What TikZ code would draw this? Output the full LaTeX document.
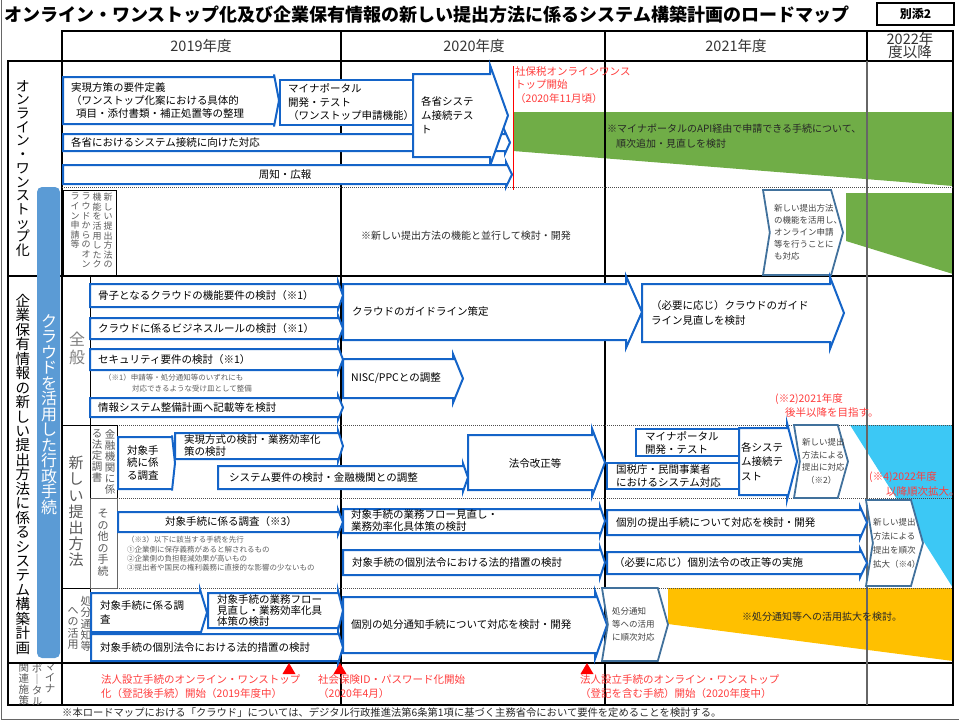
\documentclass[tikz,border=0pt]{standalone}
\usepackage{fontspec}
\setmainfont{Noto Sans CJK JP}
\usetikzlibrary{positioning}

\definecolor{arblue}{RGB}{20,100,200}
\definecolor{steel}{RGB}{65,113,156}
\definecolor{barblue}{RGB}{91,155,213}
\definecolor{grn}{RGB}{112,173,71}
\definecolor{cyn}{RGB}{60,200,245}
\definecolor{orng}{RGB}{255,192,0}
\definecolor{redtxt}{RGB}{255,60,60}
\definecolor{labgray}{RGB}{89,89,89}
\definecolor{notegray}{RGB}{95,95,95}
\definecolor{chgray}{RGB}{64,64,64}

% font size with tight lines
\newcommand\fs[2]{\fontsize{#1}{#2}\selectfont\lineskiplimit=-20pt\relax}

% one character per line
\newcommand\vstack[1]{\vstackfirst#1\relax}
\def\vstackfirst#1{#1\vstacknext}
\def\vstacknext#1{\ifx\relax#1\else\\#1\expandafter\vstacknext\fi}

% blue step arrow: name, left x, top y, tip x, bottom y, head length
\newcommand{\barrow}[6]{%
  \pgfmathsetmacro\bxa{#4-#6}%
  \pgfmathsetmacro\bba{#3-0.5*#6}%
  \pgfmathsetmacro\bbb{#5+0.5*#6}%
  \pgfmathsetmacro\bmid{(#3+#5)/2}%
  \draw[arw] (#2,#3) -- (\bxa,#3) -- (\bxa,\bba) -- (#4,\bmid) -- (\bxa,\bbb) -- (\bxa,#5) -- (#2,#5) -- cycle;
  \coordinate (#1) at (#2,\bmid);
}

% notched chevron: name, left x, top y, tip x, bottom y
\newcommand{\chevbox}[5]{%
  \pgfmathsetmacro\cxa{#4-0.14*(#5-#3)}%
  \pgfmathsetmacro\cxb{#2+0.08*(#5-#3)}%
  \pgfmathsetmacro\cmid{(#3+#5)/2}%
  \draw[chev] (#2,#3) -- (\cxa,#3) -- (#4,\cmid) -- (\cxa,#5) -- (#2,#5) -- (\cxb,\cmid) -- cycle;
  \coordinate (#1) at (#2,\cmid);
}

\begin{document}
\begin{tikzpicture}[x=1pt,y=-1pt,
    every node/.style={inner sep=0pt,font=\fs{10.5}{13}},
    arw/.style={draw=arblue,line width=2pt,fill=white,line join=miter},
    chev/.style={draw=steel,line width=1.8pt,fill=white},
    txt/.style={anchor=west,align=left},
    chtxt/.style={anchor=west,align=left,text=chgray,font=\fs{8.5}{12.5}},
    note/.style={anchor=west,align=left,text=notegray,font=\fs{7.5}{9.5}},
    red note/.style={anchor=west,align=left,text=redtxt},
    vlab/.style={anchor=north,align=center,text=labgray},
    tline/.style={line width=2pt},
    yearline/.style={line width=1.3pt},
    rowsep/.style={densely dotted,line width=1pt,draw=black!70},
    boxline/.style={line width=0.9pt}
]
\useasboundingbox (0,0) rectangle (959,720);

% title
\node[anchor=west,font=\fs{18}{18}\bfseries] (title) at (4,15) {オンライン・ワンストップ化及び企業保有情報の新しい提出方法に係るシステム構築計画のロードマップ};
\draw[line width=1.5pt] (877,3) rectangle (954,25);
\node[font=\fs{12}{12}\bfseries] (annex) at (915.5,14) {別添2};

% coloured bands
\fill[grn] (513,112) -- (953,112) -- (953,186) -- (513,151) -- cycle;
\fill[grn] (846,193) -- (953,193) -- (953,274) -- (846,241) -- cycle;
\fill[cyn] (850,425) -- (953,425) -- (953,588) -- cycle;
\fill[orng] (668,588) -- (953,588) -- (953,661) -- (668,624) -- cycle;

% frame and table
\draw[black!60,line width=1pt] (1.5,0) -- (1.5,719) -- (959,719);
\draw[tline] (62,31) rectangle (953,61);
\foreach \x in {341,605,867}
  \draw[tline] (\x,31) -- (\x,61);
\draw[tline] (8,61) rectangle (953,705);
\draw[tline] (62,61) -- (62,705);
\draw[tline] (8,276) -- (953,276);
\draw[tline] (8,663) -- (953,663);
\foreach \x in {341,605}
  \draw[yearline] (\x,61) -- (\x,705);
\draw[yearline,black!60] (867,61) -- (867,705);
\draw[rowsep] (62,187) -- (953,187);
\draw[boxline] (63,190) rectangle (116,276);
\draw[boxline] (90,276) -- (90,663);
\draw[boxline] (62,425) -- (117,425);
\draw[rowsep] (117,425) -- (953,425);
\draw[boxline] (90,425) rectangle (117,498);
\draw[rowsep] (117,498) -- (953,498);
\draw[boxline,black!60] (90,498) rectangle (117,588);
\draw[boxline] (62,588) -- (90,588);
\draw[rowsep] (117,588) -- (953,588);

% years
\node[text=black!80,font=\fs{14.5}{13}] (y2019) at (201,46) {2019年度};
\node[text=black!80,font=\fs{14.5}{13}] (y2020) at (474,46) {2020年度};
\node[text=black!80,font=\fs{14.5}{13}] (y2021) at (736,46) {2021年度};
\node[text=black!80,font=\fs{14.5}{13},align=center] (y2022) at (910,45) {2022年\\度以降};

% row labels
\fill[barblue,rounded corners=5pt] (37,187) rectangle (60,658);
\node[vlab,text=black,font=\fs{14}{13.7}] (sec1) at (23,80) {\vstack{オンライン・ワンストップ化}};
\node[vlab,text=black,font=\fs{14.5}{14.45}] (sec2) at (23,294) {\vstack{企業保有情報の新しい提出方法に係るシステム構築計画}};
\node[vlab,text=white,font=\fs{16}{15.5}] (cloud) at (49,314) {\vstack{クラウドを活用した行政手続}};
\node[vlab,text=black!50,font=\fs{16}{18}] (general) at (77,332) {\vstack{全般}};
\node[vlab,font=\fs{15}{16.2}] (newway) at (76,456) {\vstack{新しい提出方法}};
\node[vlab,font=\fs{10.5}{11}] (fin1) at (110,429) {\vstack{金融機関に係}};
\node[vlab,font=\fs{10.5}{11}] (fin2) at (97,429) {\vstack{る法定調書}};
\node[vlab,font=\fs{11}{11.5}] (other) at (103,509) {\vstack{その他の手続}};
\node[vlab,font=\fs{11}{11.3}] (notice1) at (86,596) {\vstack{処分通知等}};
\node[vlab,font=\fs{11}{11.3}] (notice2) at (73,607) {\vstack{への活用}};
\node[vlab,font=\fs{9}{9.6}] (cl1) at (108,193) {\vstack{新しい提出方法の}};
\node[vlab,font=\fs{9}{9.6}] (cl2) at (97,193) {\vstack{機能を活用したク}};
\node[vlab,font=\fs{9}{9.6}] (cl3) at (86,193) {\vstack{ラウドからのオン}};
\node[vlab,font=\fs{9}{9.6}] (cl4) at (75,193) {\vstack{ライン申請等}};
\begin{scope}
  \clip (9,664) rectangle (61,704);
  \node[vlab,font=\fs{10.5}{11}] (mp1) at (50,663) {\vstack{マイナ}};
  \node[vlab,font=\fs{10.5}{11}] (mp2) at (37,663) {\vstack{ポ｜タル}};
  \node[vlab,font=\fs{10.5}{11}] (mp3) at (24,663) {\vstack{関連施策}};
\end{scope}

% one-stop rows
\barrow{a11}{63}{77}{279}{124}{5}
\draw[arw] (280,80) rectangle (413,125);
\coordinate (b12) at (280,102.5);
\barrow{a14}{63}{134}{510}{151}{5}
\barrow{a13}{413}{74}{508}{157}{18}
\barrow{a15}{63}{165}{512}{184}{6}
\node[txt,right=8pt of a11] (t11) {実現方策の要件定義\\（ワンストップ化案における具体的\\\hspace*{5pt}項目・添付書類・補正処置等の整理};
\node[txt,right=8pt of b12,font=\fs{10.5}{13.5}] (t12) {マイナポータル\\開発・テスト\\（ワンストップ申請機能）};
\node[txt,right=8pt of a13,font=\fs{10.5}{14}] (t13) {各省システ\\ム接続テス\\ト};
\node[txt,right=8pt of a14] (t14) {各省におけるシステム接続に向けた対応};
\node (t15) at (285,175) {周知・広報};
\draw[red,line width=1pt] (513,66) -- (513,190);
\node[red note,font=\fs{10.5}{13.5}] (startnote) at (515,85) {社保税オンラインワンス\\トップ開始\\（2020年11月頃）};
\node[txt,text=black!85,font=\fs{10}{15}] (apinote) at (607,136) {※マイナポータルのAPI経由で申請できる手続について、\\\hspace*{9pt}順次追加・見直しを検討};
\node[txt,text=black!85,font=\fs{10}{13}] (parallel) at (361,236) {※新しい提出方法の機能と並行して検討・開発};
\chevbox{cs1}{763}{190}{843}{275}
\node[chtxt,right=11pt of cs1,font=\fs{8.5}{12}] (tc1) {新しい提出方法\\の機能を活用し、\\オンライン申請\\等を行うことに\\も対応};

% general rows
\barrow{a21}{90}{284}{343}{307}{5}
\barrow{a22}{90}{318}{343}{339}{5}
\barrow{a23}{90}{349}{343}{370}{5}
\barrow{a24}{90}{398}{343}{417}{5}
\barrow{a25}{343}{284}{642}{340}{16}
\barrow{a26}{642}{284}{844}{342}{14}
\barrow{a27}{343}{359}{463}{398}{10}
\node[txt,right=8pt of a21] (t21) {骨子となるクラウドの機能要件の検討（※1）};
\node[txt,right=8pt of a22] (t22) {クラウドに係るビジネスルールの検討（※1）};
\node[txt,right=8pt of a23] (t23) {セキュリティ要件の検討（※1）};
\node[txt,right=8pt of a24] (t24) {情報システム整備計画へ記載等を検討};
\node[txt,right=9pt of a25] (t25) {クラウドのガイドライン策定};
\node[txt,right=9pt of a26,font=\fs{10.5}{15}] (t26) {（必要に応じ）クラウドのガイド\\ライン見直しを検討};
\node[txt,right=8pt of a27] (t27) {NISC/PPCとの調整};
\node[note] (n1a) at (104,378) {（※1）申請等・処分通知等のいずれにも};
\node[note] (n1b) at (132,389) {対応できるような受け皿として整備};
\node[red note] (n2a) at (775,399) {(※2)2021年度};
\node[red note] (n2b) at (785,413) {後半以降を目指す。};

% financial statutory records
\barrow{a31}{118}{437}{175}{489}{3}
\barrow{a32}{175}{433}{343}{459}{5}
\barrow{a33}{218}{466}{468}{489}{5}
\barrow{a34}{468}{435}{605}{490}{13}
\draw[arw] (636,429) rectangle (739,456);
\coordinate (b35) at (636,442.5);
\draw[arw] (607,463) rectangle (739,489);
\coordinate (b36) at (607,476);
\barrow{a37}{739}{428}{797}{495}{10}
\chevbox{cs2}{794}{425}{848}{498}
\node[txt,right=9pt of a31,font=\fs{10.5}{12.5}] (t31) {対象手\\続に係\\る調査};
\node[txt,right=9pt of a32,font=\fs{10.5}{12}] (t32) {実現方式の検討・業務効率化\\策の検討};
\node[txt,right=11pt of a33] (t33) {システム要件の検討・金融機関との調整};
\node (t34) at (535,463) {法令改正等};
\node[txt,right=9pt of b35] (t35) {マイナポータル\\開発・テスト};
\node[txt,right=9pt of b36,font=\fs{10.5}{12.5}] (t36) {国税庁・民間事業者\\におけるシステム対応};
\node[txt,right=2pt of a37,font=\fs{10.5}{14.5}] (t37) {各システ\\ム接続テ\\スト};
\node[chtxt,right=8pt of cs2] (tc2) {新しい提出\\方法による\\提出に対応\\\hspace*{4pt}（※2）};
\node[red note] (n4a) at (869,477) {(※4)2022年度};
\node[red note] (n4b) at (886,492) {以降順次拡大。};

% other procedures
\barrow{a41}{118}{512}{343}{532}{5}
\barrow{a42}{343}{509}{605}{533}{5}
\barrow{a43}{343}{550}{605}{575}{5}
\barrow{a44}{607}{510}{867}{535}{7}
\barrow{a45}{607}{552}{867}{574}{7}
\chevbox{cs3}{866}{500}{923}{586}
\node (t41) at (231,522) {対象手続に係る調査（※3）};
\node[note,font=\fs{7.5}{9.4}] (n3) at (127,554) {（※3）以下に該当する手続を先行\\①企業側に保存義務があると解されるもの\\②企業側の負担軽減効果が高いもの\\③提出者や国民の権利義務に直接的な影響の少ないもの};
\node[txt,right=8pt of a42,font=\fs{10.5}{12}] (t42) {対象手続の業務フロー見直し・\\業務効率化具体策の検討};
\node[txt,right=9pt of a43] (t43) {対象手続の個別法令における法的措置の検討};
\node[txt,right=9pt of a44] (t44) {個別の提出手続について対応を検討・開発};
\node[txt,right=7pt of a45] (t45) {（必要に応じ）個別法令の改正等の実施};
\node[chtxt,right=7pt of cs3,font=\fs{8.5}{14}] (tc3) {新しい提出\\方法による\\提出を順次\\拡大（※4）};

% notices
\barrow{a51}{91}{593}{207}{632}{7}
\barrow{a52}{208}{593}{343}{628}{5}
\barrow{a53}{91}{634}{343}{661}{5}
\barrow{a54}{343}{597}{607}{653}{12}
\chevbox{cs4}{602}{588}{668}{661}
\node[txt,right=9pt of a51,font=\fs{10.5}{14}] (t51) {対象手続に係る調\\査};
\node[txt,right=9pt of a52,font=\fs{10.5}{11}] (t52) {対象手続の業務フロー\\見直し・業務効率化具\\体策の検討};
\node[txt,right=9pt of a53] (t53) {対象手続の個別法令における法的措置の検討};
\node[txt,right=8pt of a54] (t54) {個別の処分通知手続について対応を検討・開発};
\node[chtxt,right=10pt of cs4,font=\fs{8.5}{13}] (tc4) {処分通知\\等への活用\\に順次対応};
\node[txt,text=black!85,font=\fs{10}{13}] (expand) at (742,617) {※処分通知等への活用拡大を検討。};

% mynaportal milestones
\foreach \x in {289,340,587}
  \fill[red] (\x,663) -- (\x+6.5,674) -- (\x-6.5,674) -- cycle;
\node[red note,font=\fs{10.5}{14}] (m1) at (101,687) {法人設立手続のオンライン・ワンストップ\\化（登記後手続）開始（2019年度中）};
\node[red note,font=\fs{10.5}{14}] (m2) at (318,687) {社会保険ID・パスワード化開始\\（2020年4月）};
\node[red note,font=\fs{10.5}{14}] (m3) at (580,687) {法人設立手続のオンライン・ワンストップ\\（登記を含む手続）開始（2020年度中）};

% footnote
\node[txt,text=black!85,font=\fs{10.3}{12}] (foot) at (62,713) {※本ロードマップにおける「クラウド」については、デジタル行政推進法第6条第1項に基づく主務省令において要件を定めることを検討する。};
\end{tikzpicture}
\end{document}
